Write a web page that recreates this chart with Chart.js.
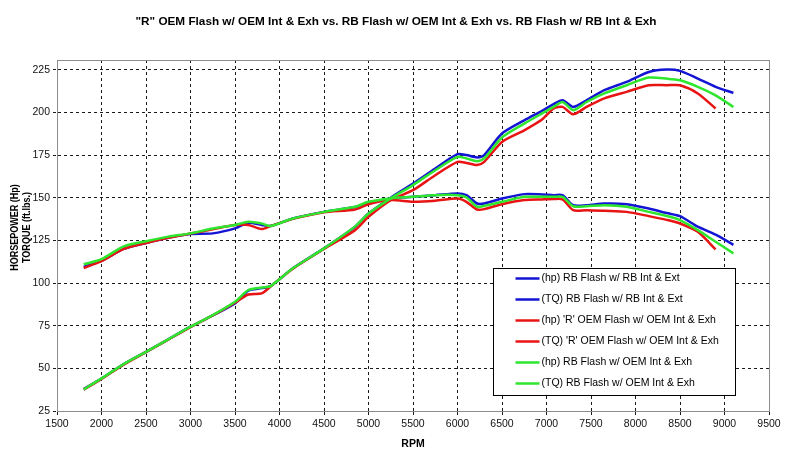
<!DOCTYPE html>
<html>
<head>
<meta charset="utf-8">
<script src="https://cdn.jsdelivr.net/npm/chart.js@4.4.1/dist/chart.umd.min.js"></script>
<style>
  html, body { margin: 0; padding: 0; background: #fff; }
  #wrap { position: relative; width: 792px; height: 466px; }
</style>
</head>
<body>
<div id="wrap"><canvas id="dynoChart" width="792" height="466"></canvas></div>
<script>
// chart data
const rpm = [1800, 2000, 2250, 2500, 2750, 3000, 3250, 3500, 3650, 3800, 3900, 4150, 4500, 4850, 5000, 5250, 5500, 5750, 6000, 6100, 6220, 6300, 6500, 6750, 6950, 7080, 7180, 7300, 7450, 7650, 7900, 8150, 8350, 8500, 8700, 8900, 9100];

const rbRbHp = [37.8, 44, 52.5, 59.7, 67, 74.4, 81, 88, 95.5, 97, 98.2, 108.6, 120.3, 133, 140.7, 150, 158.3, 167.1, 175.5, 175, 173.6, 175, 187.6, 195.3, 200.9, 204.8, 207.1, 203.2, 207.1, 213, 217.9, 223.7, 225.1, 224.3, 219.8, 215, 211.4];
const rbRbTq = [109.5, 113, 120, 123.5, 126.5, 128.7, 129.1, 132, 135.3, 134, 133.4, 137.8, 141.7, 144.5, 147, 149.6, 150.5, 151.5, 152.5, 151.5, 146.6, 146.6, 149.5, 152.1, 151.9, 151.5, 151.5, 145.6, 145.6, 146.6, 146.2, 143.7, 141, 139.2, 133, 128.3, 122.4];

const oemHp = [37.5, 43.8, 52.2, 59.5, 66.8, 74.2, 81, 88.5, 93.3, 93.9, 98, 108.4, 120, 131, 138.8, 148.6, 154.4, 163.2, 171, 170.4, 169.1, 171, 182.7, 189.5, 195.8, 202.3, 203.2, 198.9, 203.2, 208.2, 212, 215.9, 215.9, 215.9, 211.1, 202.3, null];
const oemTq = [108.8, 112.8, 120, 123.5, 126.5, 129, 131.5, 134, 134, 131.6, 133.4, 137.6, 141.5, 143.1, 146.2, 148.6, 147.6, 148.2, 149.5, 147.6, 143.1, 143.3, 146.2, 148.6, 149, 149.2, 149, 142.7, 142.7, 142.3, 141.7, 139.2, 137, 134.9, 130, 119.7, null];

const rbOemHp = [37.7, 44.1, 52.5, 59.7, 67, 74.4, 81.2, 89, 95.9, 97.4, 98.2, 108.6, 120.3, 133.2, 140.7, 149.6, 157.4, 166.1, 173.9, 173, 171.4, 173, 185.3, 193.4, 199.4, 203.2, 206.1, 201.3, 206.1, 211.1, 215.9, 220.4, 219.8, 218.8, 215, 210, 203.2];
const rbOemTq = [111, 114, 121.5, 124.5, 127.2, 129.1, 132, 134, 135.9, 134.9, 133.4, 137.8, 141.7, 144.7, 147.6, 149.6, 150.5, 151.5, 151.5, 150.2, 144.7, 145.2, 147.6, 150.5, 150.5, 150.5, 150.5, 145, 145, 145.6, 144.7, 141.7, 139.3, 136.9, 131, 124.2, 117.4];

const seriesLabels = [
  "(hp) RB Flash w/ RB Int & Ext",
  "(TQ) RB Flash w/ RB Int & Ext",
  "(hp) 'R' OEM Flash w/ OEM Int & Exh",
  "(TQ) 'R' OEM Flash w/ OEM Int & Exh",
  "(hp) RB Flash w/ OEM Int & Exh",
  "(TQ) RB Flash w/ OEM Int & Exh"
];
const yTicks = [25, 50, 75, 100, 125, 150, 175, 200, 225];
const chartTitle = "\"R\" OEM Flash w/ OEM Int & Exh vs. RB Flash w/ OEM Int & Exh vs. RB Flash w/ RB Int & Exh";
const yTitle = ["HORSEPOWER (Hp)", "TORQUE (ft.lbs.)"];

const BLUE = "#1414d4";
const RED = "#e81414";
const GREEN = "#2ee62e";
const FONT = "'Liberation Sans', Arial, sans-serif";

function pts(vals) {
  let out = [];
  for (let i = 0; i < rpm.length; i++) {
    if (vals[i] != null) out.push({ x: rpm[i], y: vals[i] });
  }
  return out;
}

function line(label, vals, color, order) {
  return {
    label: label,
    data: pts(vals),
    borderColor: color,
    backgroundColor: color,
    borderWidth: 2.5,
    pointRadius: 0,
    tension: 0.25,
    fill: false,
    order: order
  };
}

// gray frame round the plot area, the centred title and the squeezed y title
const frame = {
  id: "frame",
  beforeDatasetsDraw(chart) {
    const { ctx, chartArea: a } = chart;
    ctx.save();
    ctx.strokeStyle = "#8c8c8c";
    ctx.lineWidth = 1;
    ctx.strokeRect(a.left + 0.5, a.top + 0.5, a.right - a.left, a.bottom - a.top);
    ctx.fillStyle = "#000";
    ctx.font = "bold 11.75px " + FONT;
    ctx.textAlign = "center";
    ctx.textBaseline = "middle";
    ctx.fillText(chartTitle, chart.width / 2, 22);

    // y axis title, two lines, rotated and a bit condensed like the original
    const cy = (a.top + a.bottom) / 2 - 8;
    ctx.font = "bold 11px " + FONT;
    yTitle.forEach((t, i) => {
      ctx.save();
      ctx.translate(15 + i * 12, cy);
      ctx.rotate(-Math.PI / 2);
      ctx.scale(0.82, 1);
      ctx.fillText(t, 0, 0);
      ctx.restore();
    });
    ctx.restore();
  }
};

// boxed legend sitting inside the plot, lower right
const boxLegend = {
  id: "boxLegend",
  afterDraw(chart) {
    const ctx = chart.ctx;
    const x = 493.5, y = 268.5, w = 242, h = 127;
    ctx.save();
    ctx.fillStyle = "#fff";
    ctx.fillRect(x, y, w, h);
    ctx.strokeStyle = "#000";
    ctx.lineWidth = 1;
    ctx.strokeRect(x, y, w, h);
    ctx.font = "10.5px " + FONT;
    ctx.textBaseline = "middle";
    chart.data.datasets.forEach((ds, i) => {
      let ly = y + 10 + i * 21;
      ctx.strokeStyle = ds.borderColor;
      ctx.lineWidth = 2.5;
      ctx.beginPath();
      ctx.moveTo(x + 22, ly);
      ctx.lineTo(x + 46, ly);
      ctx.stroke();
      ctx.fillStyle = "#000";
      ctx.fillText(ds.label, x + 48, ly);
    });
    ctx.restore();
  }
};

const gridOpts = {
  color: "#1a1a1a",
  lineWidth: 1,
  tickLength: 4,
  tickBorderDash: [3, 3]
};

new Chart(document.getElementById("dynoChart"), {
  type: "line",
  data: {
    datasets: [
      line(seriesLabels[0], rbRbHp, BLUE, 2),
      line(seriesLabels[1], rbRbTq, BLUE, 2),
      line(seriesLabels[2], oemHp, RED, 1),
      line(seriesLabels[3], oemTq, RED, 1),
      line(seriesLabels[4], rbOemHp, GREEN, 0),
      line(seriesLabels[5], rbOemTq, GREEN, 0)
    ]
  },
  options: {
    responsive: false,
    animation: false,
    devicePixelRatio: 1,
    layout: { padding: { left: 0, right: 23, top: 60, bottom: 0 } },
    plugins: {
      legend: { display: false },
      tooltip: { enabled: false },
      title: { display: false }
    },
    scales: {
      x: {
        type: "linear",
        min: 1500,
        max: 9500,
        afterFit: (s) => { s.height = 55; },
        border: { display: true, color: "#8c8c8c", dash: [3, 3] },
        grid: gridOpts,
        ticks: {
          stepSize: 500,
          padding: 3,
          maxRotation: 0,
          color: "#111",
          font: { family: FONT, size: 10.5 },
          callback: (v) => String(v)
        },
        title: {
          display: true,
          text: "RPM",
          color: "#000",
          font: { family: FONT, size: 10.5, weight: "bold" },
          padding: { top: 0, bottom: 16 }
        }
      },
      y: {
        min: 25,
        max: 230.7,
        afterFit: (s) => { s.width = 57; },
        afterBuildTicks: (s) => { s.ticks = yTicks.map(v => ({ value: v })); },
        border: { display: true, color: "#8c8c8c", dash: [3, 3] },
        grid: gridOpts,
        ticks: {
          padding: 3,
          color: "#111",
          font: { family: FONT, size: 10.5 },
          callback: (v) => String(v)
        },
        title: { display: false }
      }
    }
  },
  plugins: [frame, boxLegend]
});
</script>
</body>
</html>
